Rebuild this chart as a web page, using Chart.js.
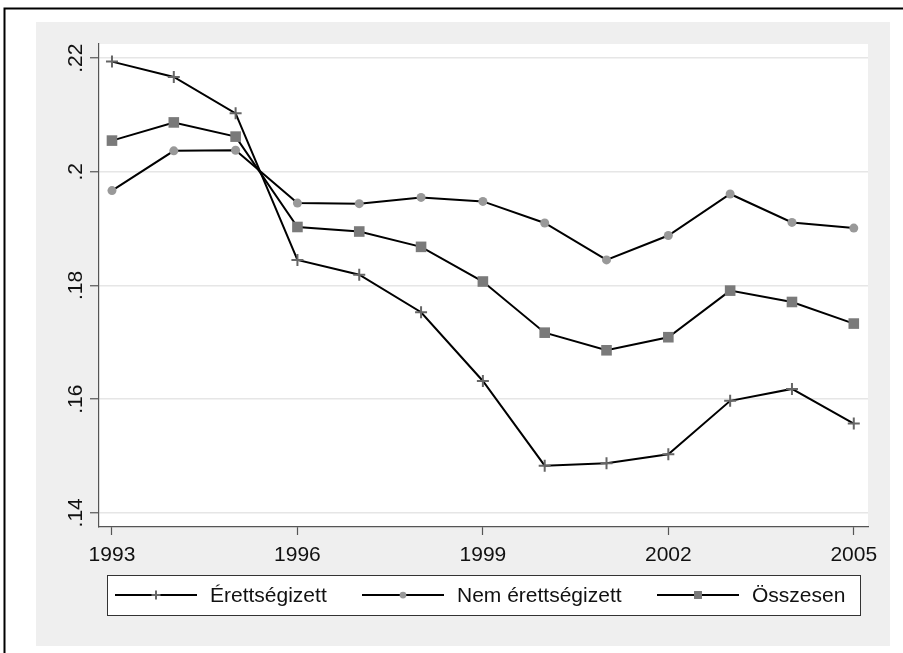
<!DOCTYPE html>
<html>
<head>
<meta charset="utf-8">
<script src="https://cdn.jsdelivr.net/npm/chart.js@4.4.0/dist/chart.umd.min.js"></script>
<style>
  html, body { margin: 0; padding: 0; background: #fff; }
  #wrap { width: 903px; height: 653px; }
</style>
</head>
<body>
<div id="wrap"><canvas id="c" width="903" height="653"></canvas></div>
<script>
// data
const years = [1993, 1994, 1995, 1996, 1997, 1998, 1999, 2000, 2001, 2002, 2003, 2004, 2005];
const erettsegizett = [0.2194, 0.2167, 0.2103, 0.1845, 0.1819, 0.1753, 0.1632, 0.1483, 0.1487, 0.1503, 0.1597, 0.1618, 0.1557];
const nemErettsegizett = [0.1967, 0.2037, 0.2038, 0.1945, 0.1944, 0.1955, 0.1948, 0.1910, 0.1845, 0.1888, 0.1961, 0.1911, 0.1901];
const osszesen = [0.2055, 0.2087, 0.2062, 0.1903, 0.1895, 0.1868, 0.1807, 0.1717, 0.1686, 0.1709, 0.1791, 0.1771, 0.1733];

const seriesNames = ["Érettségizett", "Nem érettségizett", "Összesen"];
const xTicks = [1993, 1996, 1999, 2002, 2005];
const yTicks = [0.14, 0.16, 0.18, 0.20, 0.22];
const yTickLabels = [".14", ".16", ".18", ".2", ".22"];

const FONT = '21px "Liberation Sans", Arial, sans-serif';

const toPoints = arr => years.map((x, i) => ({ x: x, y: arr[i] }));

// marker styles, reused for the legend
const markers = [
  { pointStyle: "cross", pointRadius: 6, pointBorderWidth: 2, pointBorderColor: "#666", pointBackgroundColor: "#666" },
  { pointStyle: "circle", pointRadius: 4.5, pointBorderWidth: 0, pointBorderColor: "#999", pointBackgroundColor: "#999" },
  { pointStyle: "rect", pointRadius: 7.5, pointBorderWidth: 0, pointBorderColor: "#7a7a7a", pointBackgroundColor: "#7a7a7a" },
];

// page background, gray frame and white plot region
const backdrop = {
  id: "backdrop",
  beforeDraw(chart) {
    const ctx = chart.ctx;
    const a = chart.chartArea;
    ctx.save();
    ctx.fillStyle = "#fff";
    ctx.fillRect(0, 0, chart.width, chart.height);
    ctx.strokeStyle = "#000";
    ctx.lineWidth = 2;
    ctx.beginPath();
    ctx.moveTo(4.5, chart.height);
    ctx.lineTo(4.5, 8.5);
    ctx.lineTo(chart.width, 8.5);
    ctx.stroke();
    ctx.fillStyle = "#efefef";
    ctx.fillRect(36, 22, 854, 624);
    ctx.fillStyle = "#fff";
    ctx.fillRect(a.left, a.top, a.right - a.left, a.bottom - a.top);
    ctx.restore();
  },
};

// tick labels (rotated on y) and the boxed legend
const labelsAndLegend = {
  id: "labelsAndLegend",
  afterDraw(chart) {
    const ctx = chart.ctx;
    const xs = chart.scales.x;
    const ys = chart.scales.y;
    ctx.save();
    ctx.fillStyle = "#111";
    ctx.font = FONT;

    // y tick labels, reading bottom to top
    yTicks.forEach((v, i) => {
      const py = ys.getPixelForValue(v);
      ctx.save();
      ctx.translate(82, py);
      ctx.rotate(-Math.PI / 2);
      ctx.textAlign = "center";
      ctx.textBaseline = "alphabetic";
      ctx.fillText(yTickLabels[i], 0, 0);
      ctx.restore();
    });

    // x tick labels
    ctx.textAlign = "center";
    ctx.textBaseline = "alphabetic";
    xTicks.forEach(v => {
      ctx.fillText(String(v), xs.getPixelForValue(v), 561);
    });

    // legend box
    ctx.fillStyle = "#fff";
    ctx.fillRect(107, 575, 753, 40);
    ctx.strokeStyle = "#333";
    ctx.lineWidth = 1;
    ctx.strokeRect(107.5, 575.5, 753, 40);

    const cy = 595;
    const starts = [115, 362, 657];
    seriesNames.forEach((name, i) => {
      const x0 = starts[i];
      ctx.strokeStyle = "#000";
      ctx.lineWidth = 2;
      ctx.beginPath();
      ctx.moveTo(x0, cy);
      ctx.lineTo(x0 + 82, cy);
      ctx.stroke();
      const m = markers[i];
      ctx.fillStyle = m.pointBackgroundColor;
      ctx.strokeStyle = m.pointBorderColor;
      ctx.lineWidth = m.pointBorderWidth;
      Chart.helpers.drawPoint(ctx, {
        pointStyle: m.pointStyle,
        radius: m.pointRadius * 0.75,
        borderWidth: m.pointBorderWidth,
        rotation: 0,
      }, x0 + 41, cy);
      ctx.fillStyle = "#111";
      ctx.font = FONT;
      ctx.textAlign = "left";
      ctx.textBaseline = "middle";
      ctx.fillText(name, x0 + 95, cy + 1);
    });
    ctx.restore();
  },
};

const lineDataset = (label, arr, m) => Object.assign({
  label: label,
  data: toPoints(arr),
  borderColor: "#000",
  borderWidth: 2,
  tension: 0,
  fill: false,
  pointHoverRadius: m.pointRadius,
}, m);

new Chart(document.getElementById("c"), {
  type: "line",
  data: {
    datasets: [
      lineDataset(seriesNames[0], erettsegizett, markers[0]),
      lineDataset(seriesNames[1], nemErettsegizett, markers[1]),
      lineDataset(seriesNames[2], osszesen, markers[2]),
    ],
  },
  options: {
    responsive: false,
    animation: false,
    devicePixelRatio: 1,
    layout: { padding: { left: 0, top: 44, right: 35, bottom: 0 } },
    plugins: {
      legend: { display: false },
      tooltip: { enabled: false },
    },
    scales: {
      x: {
        type: "linear",
        min: 1992.79,
        max: 2005.23,
        afterBuildTicks: s => { s.ticks = xTicks.map(v => ({ value: v })); },
        afterFit: s => { s.height = 126; },
        ticks: { display: false },
        grid: { drawOnChartArea: false, drawTicks: true, tickLength: 8, tickColor: "#555", tickWidth: 1.2 },
        border: { color: "#555", width: 1.2 },
      },
      y: {
        type: "linear",
        min: 0.1375,
        max: 0.2225,
        afterBuildTicks: s => { s.ticks = yTicks.map(v => ({ value: v })); },
        afterFit: s => { s.width = 99; },
        ticks: { display: false },
        grid: { color: "#e6e6e6", lineWidth: 1.5, drawTicks: true, tickLength: 9, tickColor: "#555", tickWidth: 1.2 },
        border: { color: "#555", width: 1.2 },
      },
    },
  },
  plugins: [backdrop, labelsAndLegend],
});
</script>
</body>
</html>
